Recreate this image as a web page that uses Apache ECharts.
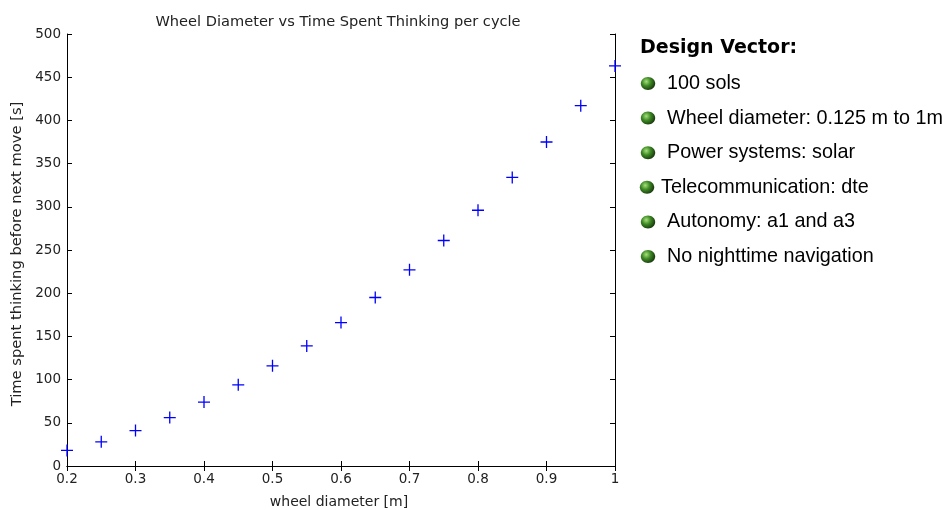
<!DOCTYPE html>
<html><head><meta charset="utf-8">
<script src="https://cdn.jsdelivr.net/npm/echarts@6/dist/echarts.min.js"></script>
<style>html,body{margin:0;padding:0;background:#fff}#c{width:948px;height:510px}</style>
</head><body><div id="c"></div>
<script>
const diameters = [0.2,0.25,0.3,0.35,0.4,0.45,0.5,0.55,0.6,0.65,0.7,0.75,0.8,0.85,0.9,0.95,1.0];
const thinkTime = [18,28,41,56,74,94,116,139,166,195,227,261,296,334,375,417,463];
const xTicks = {min:0.2, max:1, interval:0.1};
const yTicks = {min:0, max:500, interval:50};
const titleText = 'Wheel Diameter vs Time Spent Thinking per cycle';
const xName = 'wheel diameter [m]';
const yName = 'Time spent thinking before next move [s]';
const legendTitle = 'Design Vector:';
const bullets = ['100 sols','Wheel diameter: 0.125 m to 1m','Power systems: solar','Telecommunication: dte','Autonomy: a1 and a3','No nighttime navigation'];

const chart = echarts.init(document.getElementById('c'));
const axisFont = {fontFamily:'DejaVu Sans', fontSize:13.5, color:'#222'};
const axLine = {show:true, lineStyle:{color:'#000', width:1}};
const tick = {show:true, inside:true, length:5, lineStyle:{color:'#000'}};
const ballGrad = new echarts.graphic.RadialGradient(0.38,0.35,0.75,[
  {offset:0,color:'#a6e07a'},{offset:0.45,color:'#3e8a25'},{offset:1,color:'#14300a'}]);
const graphics = [{type:'text', style:{x:640, y:48, text:legendTitle, font:'bold 19px "DejaVu Sans"', fill:'#000', verticalAlign:'middle'}}];
bullets.forEach((b,i)=>{
  const cy = 83.5 + i*34.6;
  const bx = i===3 ? 647 : 648;
  graphics.push({type:'ellipse', shape:{cx:bx, cy:cy, rx:7.2, ry:6.5}, style:{fill:ballGrad}});
  graphics.push({type:'text', style:{x: i===3 ? 661 : 667, y: cy, text:b, font:'19.8px "Liberation Sans"', fill:'#000', verticalAlign:'middle'}});
});
chart.setOption({
  animation:false,
  title:{text:titleText, left:333, top:10, textAlign:'center', textStyle:{fontFamily:'DejaVu Sans', fontSize:14.6, fontWeight:'normal', color:'#222'}},
  grid:{left:67, right:333, top:34, bottom:44, outerBoundsMode:'none', containLabel:false},
  xAxis:[
    {type:'value', min:xTicks.min, max:xTicks.max, interval:xTicks.interval, position:'bottom',
     name:xName, nameLocation:'middle', nameGap:29, nameTextStyle:{fontFamily:'DejaVu Sans', fontSize:14, color:'#222', padding:[0,4,0,0]},
     axisLine:axLine, axisTick:tick, splitLine:{show:false}, axisLabel:Object.assign({margin:6},axisFont)},
    {type:'value', min:xTicks.min, max:xTicks.max, interval:xTicks.interval, position:'top',
     axisLine:axLine, axisTick:tick, splitLine:{show:false}, axisLabel:{show:false}}
  ],
  yAxis:[
    {type:'value', min:yTicks.min, max:yTicks.max, interval:yTicks.interval, position:'left',
     name:yName, nameLocation:'middle', nameGap:42, nameTextStyle:{fontFamily:'DejaVu Sans', fontSize:14.7, color:'#222', padding:[0,8,0,0]},
     axisLine:axLine, axisTick:tick, splitLine:{show:false}, axisLabel:Object.assign({margin:6},axisFont)},
    {type:'value', min:yTicks.min, max:yTicks.max, interval:yTicks.interval, position:'right',
     axisLine:axLine, axisTick:tick, splitLine:{show:false}, axisLabel:{show:false}}
  ],
  series:[{type:'scatter', data:diameters.map((d,i)=>[d,thinkTime[i]]),
    symbol:'path://M0,-6 L0,6 M-6,0 L6,0', symbolSize:12, clip:false,
    itemStyle:{color:'#0000ff', borderColor:'#0000ff', borderWidth:1.3, opacity:1}}],
  graphic:graphics
});
</script></body></html>
